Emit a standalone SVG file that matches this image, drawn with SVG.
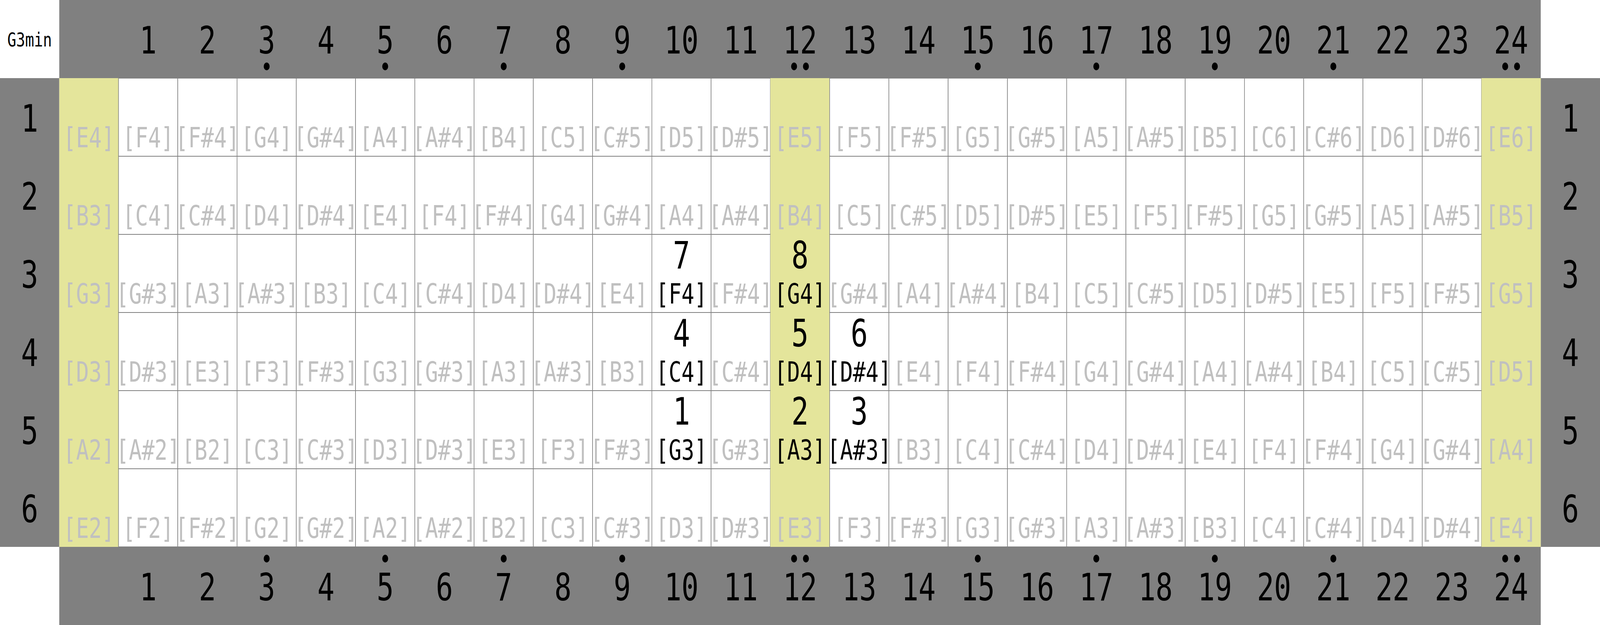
<svg xmlns="http://www.w3.org/2000/svg" width="5400" height="1600" viewBox="0 0 5400 1600" preserveAspectRatio="none">
<style>
svg:root{width:100vw;height:100vh;display:block}
text{font-family:"DejaVu Sans Mono","Liberation Mono",monospace;text-anchor:middle;fill:#000}
.bar{fill:#808080}
.c{fill:#fff;stroke:#808080;stroke-width:2}
.h{fill:#e4e59b;stroke:none}
.n{font-size:72px;fill:#c0c0c0}
.n.on{fill:#000}
.big{font-size:96px}
.title{font-size:50px}
.dot{fill:#000}
</style>
<rect width="5400" height="1600" fill="#fff"/>
<g id="title"><text class="title" x="100" y="119">G3min</text></g>
<g id="top-bar"><rect class="bar" x="200" y="0" width="5000" height="200"/>
<text class="big" x="500" y="137">1</text><text class="big" x="700" y="137">2</text><text class="big" x="900" y="137">3</text><text class="big" x="1100" y="137">4</text><text class="big" x="1300" y="137">5</text><text class="big" x="1500" y="137">6</text><text class="big" x="1700" y="137">7</text><text class="big" x="1900" y="137">8</text><text class="big" x="2100" y="137">9</text><text class="big" x="2300" y="137">10</text><text class="big" x="2500" y="137">11</text><text class="big" x="2700" y="137">12</text><text class="big" x="2900" y="137">13</text><text class="big" x="3100" y="137">14</text><text class="big" x="3300" y="137">15</text><text class="big" x="3500" y="137">16</text><text class="big" x="3700" y="137">17</text><text class="big" x="3900" y="137">18</text><text class="big" x="4100" y="137">19</text><text class="big" x="4300" y="137">20</text><text class="big" x="4500" y="137">21</text><text class="big" x="4700" y="137">22</text><text class="big" x="4900" y="137">23</text><text class="big" x="5100" y="137">24</text>
<circle class="dot" cx="900" cy="170" r="10"/><circle class="dot" cx="1300" cy="170" r="10"/><circle class="dot" cx="1700" cy="170" r="10"/><circle class="dot" cx="2100" cy="170" r="10"/><circle class="dot" cx="2680" cy="170" r="10"/><circle class="dot" cx="2720" cy="170" r="10"/><circle class="dot" cx="3300" cy="170" r="10"/><circle class="dot" cx="3700" cy="170" r="10"/><circle class="dot" cx="4100" cy="170" r="10"/><circle class="dot" cx="4500" cy="170" r="10"/><circle class="dot" cx="5080" cy="170" r="10"/><circle class="dot" cx="5120" cy="170" r="10"/>
</g>
<g id="bottom-bar"><rect class="bar" x="200" y="1400" width="5000" height="200"/>
<text class="big" x="500" y="1537">1</text><text class="big" x="700" y="1537">2</text><text class="big" x="900" y="1537">3</text><text class="big" x="1100" y="1537">4</text><text class="big" x="1300" y="1537">5</text><text class="big" x="1500" y="1537">6</text><text class="big" x="1700" y="1537">7</text><text class="big" x="1900" y="1537">8</text><text class="big" x="2100" y="1537">9</text><text class="big" x="2300" y="1537">10</text><text class="big" x="2500" y="1537">11</text><text class="big" x="2700" y="1537">12</text><text class="big" x="2900" y="1537">13</text><text class="big" x="3100" y="1537">14</text><text class="big" x="3300" y="1537">15</text><text class="big" x="3500" y="1537">16</text><text class="big" x="3700" y="1537">17</text><text class="big" x="3900" y="1537">18</text><text class="big" x="4100" y="1537">19</text><text class="big" x="4300" y="1537">20</text><text class="big" x="4500" y="1537">21</text><text class="big" x="4700" y="1537">22</text><text class="big" x="4900" y="1537">23</text><text class="big" x="5100" y="1537">24</text>
<circle class="dot" cx="900" cy="1430" r="10"/><circle class="dot" cx="1300" cy="1430" r="10"/><circle class="dot" cx="1700" cy="1430" r="10"/><circle class="dot" cx="2100" cy="1430" r="10"/><circle class="dot" cx="2680" cy="1430" r="10"/><circle class="dot" cx="2720" cy="1430" r="10"/><circle class="dot" cx="3300" cy="1430" r="10"/><circle class="dot" cx="3700" cy="1430" r="10"/><circle class="dot" cx="4100" cy="1430" r="10"/><circle class="dot" cx="4500" cy="1430" r="10"/><circle class="dot" cx="5080" cy="1430" r="10"/><circle class="dot" cx="5120" cy="1430" r="10"/>
</g>
<g id="left-bar"><rect class="bar" x="0" y="200" width="200" height="1200"/>
<text class="big" x="100" y="337">1</text><text class="big" x="100" y="537">2</text><text class="big" x="100" y="737">3</text><text class="big" x="100" y="937">4</text><text class="big" x="100" y="1137">5</text><text class="big" x="100" y="1337">6</text>
</g>
<g id="right-bar"><rect class="bar" x="5200" y="200" width="200" height="1200"/>
<text class="big" x="5300" y="337">1</text><text class="big" x="5300" y="537">2</text><text class="big" x="5300" y="737">3</text><text class="big" x="5300" y="937">4</text><text class="big" x="5300" y="1137">5</text><text class="big" x="5300" y="1337">6</text>
</g>
<g id="string-1">
<g id="s1f0"><rect class="h" x="200" y="200" width="200" height="200"/><text class="n" x="300" y="377">[E4]</text></g>
<g id="s1f1"><rect class="c" x="400" y="200" width="200" height="200"/><text class="n" x="500" y="377">[F4]</text></g>
<g id="s1f2"><rect class="c" x="600" y="200" width="200" height="200"/><text class="n" x="700" y="377">[F#4]</text></g>
<g id="s1f3"><rect class="c" x="800" y="200" width="200" height="200"/><text class="n" x="900" y="377">[G4]</text></g>
<g id="s1f4"><rect class="c" x="1000" y="200" width="200" height="200"/><text class="n" x="1100" y="377">[G#4]</text></g>
<g id="s1f5"><rect class="c" x="1200" y="200" width="200" height="200"/><text class="n" x="1300" y="377">[A4]</text></g>
<g id="s1f6"><rect class="c" x="1400" y="200" width="200" height="200"/><text class="n" x="1500" y="377">[A#4]</text></g>
<g id="s1f7"><rect class="c" x="1600" y="200" width="200" height="200"/><text class="n" x="1700" y="377">[B4]</text></g>
<g id="s1f8"><rect class="c" x="1800" y="200" width="200" height="200"/><text class="n" x="1900" y="377">[C5]</text></g>
<g id="s1f9"><rect class="c" x="2000" y="200" width="200" height="200"/><text class="n" x="2100" y="377">[C#5]</text></g>
<g id="s1f10"><rect class="c" x="2200" y="200" width="200" height="200"/><text class="n" x="2300" y="377">[D5]</text></g>
<g id="s1f11"><rect class="c" x="2400" y="200" width="200" height="200"/><text class="n" x="2500" y="377">[D#5]</text></g>
<g id="s1f12"><rect class="h" x="2600" y="200" width="200" height="200"/><text class="n" x="2700" y="377">[E5]</text></g>
<g id="s1f13"><rect class="c" x="2800" y="200" width="200" height="200"/><text class="n" x="2900" y="377">[F5]</text></g>
<g id="s1f14"><rect class="c" x="3000" y="200" width="200" height="200"/><text class="n" x="3100" y="377">[F#5]</text></g>
<g id="s1f15"><rect class="c" x="3200" y="200" width="200" height="200"/><text class="n" x="3300" y="377">[G5]</text></g>
<g id="s1f16"><rect class="c" x="3400" y="200" width="200" height="200"/><text class="n" x="3500" y="377">[G#5]</text></g>
<g id="s1f17"><rect class="c" x="3600" y="200" width="200" height="200"/><text class="n" x="3700" y="377">[A5]</text></g>
<g id="s1f18"><rect class="c" x="3800" y="200" width="200" height="200"/><text class="n" x="3900" y="377">[A#5]</text></g>
<g id="s1f19"><rect class="c" x="4000" y="200" width="200" height="200"/><text class="n" x="4100" y="377">[B5]</text></g>
<g id="s1f20"><rect class="c" x="4200" y="200" width="200" height="200"/><text class="n" x="4300" y="377">[C6]</text></g>
<g id="s1f21"><rect class="c" x="4400" y="200" width="200" height="200"/><text class="n" x="4500" y="377">[C#6]</text></g>
<g id="s1f22"><rect class="c" x="4600" y="200" width="200" height="200"/><text class="n" x="4700" y="377">[D6]</text></g>
<g id="s1f23"><rect class="c" x="4800" y="200" width="200" height="200"/><text class="n" x="4900" y="377">[D#6]</text></g>
<g id="s1f24"><rect class="h" x="5000" y="200" width="200" height="200"/><text class="n" x="5100" y="377">[E6]</text></g>
</g>
<g id="string-2">
<g id="s2f0"><rect class="h" x="200" y="400" width="200" height="200"/><text class="n" x="300" y="577">[B3]</text></g>
<g id="s2f1"><rect class="c" x="400" y="400" width="200" height="200"/><text class="n" x="500" y="577">[C4]</text></g>
<g id="s2f2"><rect class="c" x="600" y="400" width="200" height="200"/><text class="n" x="700" y="577">[C#4]</text></g>
<g id="s2f3"><rect class="c" x="800" y="400" width="200" height="200"/><text class="n" x="900" y="577">[D4]</text></g>
<g id="s2f4"><rect class="c" x="1000" y="400" width="200" height="200"/><text class="n" x="1100" y="577">[D#4]</text></g>
<g id="s2f5"><rect class="c" x="1200" y="400" width="200" height="200"/><text class="n" x="1300" y="577">[E4]</text></g>
<g id="s2f6"><rect class="c" x="1400" y="400" width="200" height="200"/><text class="n" x="1500" y="577">[F4]</text></g>
<g id="s2f7"><rect class="c" x="1600" y="400" width="200" height="200"/><text class="n" x="1700" y="577">[F#4]</text></g>
<g id="s2f8"><rect class="c" x="1800" y="400" width="200" height="200"/><text class="n" x="1900" y="577">[G4]</text></g>
<g id="s2f9"><rect class="c" x="2000" y="400" width="200" height="200"/><text class="n" x="2100" y="577">[G#4]</text></g>
<g id="s2f10"><rect class="c" x="2200" y="400" width="200" height="200"/><text class="n" x="2300" y="577">[A4]</text></g>
<g id="s2f11"><rect class="c" x="2400" y="400" width="200" height="200"/><text class="n" x="2500" y="577">[A#4]</text></g>
<g id="s2f12"><rect class="h" x="2600" y="400" width="200" height="200"/><text class="n" x="2700" y="577">[B4]</text></g>
<g id="s2f13"><rect class="c" x="2800" y="400" width="200" height="200"/><text class="n" x="2900" y="577">[C5]</text></g>
<g id="s2f14"><rect class="c" x="3000" y="400" width="200" height="200"/><text class="n" x="3100" y="577">[C#5]</text></g>
<g id="s2f15"><rect class="c" x="3200" y="400" width="200" height="200"/><text class="n" x="3300" y="577">[D5]</text></g>
<g id="s2f16"><rect class="c" x="3400" y="400" width="200" height="200"/><text class="n" x="3500" y="577">[D#5]</text></g>
<g id="s2f17"><rect class="c" x="3600" y="400" width="200" height="200"/><text class="n" x="3700" y="577">[E5]</text></g>
<g id="s2f18"><rect class="c" x="3800" y="400" width="200" height="200"/><text class="n" x="3900" y="577">[F5]</text></g>
<g id="s2f19"><rect class="c" x="4000" y="400" width="200" height="200"/><text class="n" x="4100" y="577">[F#5]</text></g>
<g id="s2f20"><rect class="c" x="4200" y="400" width="200" height="200"/><text class="n" x="4300" y="577">[G5]</text></g>
<g id="s2f21"><rect class="c" x="4400" y="400" width="200" height="200"/><text class="n" x="4500" y="577">[G#5]</text></g>
<g id="s2f22"><rect class="c" x="4600" y="400" width="200" height="200"/><text class="n" x="4700" y="577">[A5]</text></g>
<g id="s2f23"><rect class="c" x="4800" y="400" width="200" height="200"/><text class="n" x="4900" y="577">[A#5]</text></g>
<g id="s2f24"><rect class="h" x="5000" y="400" width="200" height="200"/><text class="n" x="5100" y="577">[B5]</text></g>
</g>
<g id="string-3">
<g id="s3f0"><rect class="h" x="200" y="600" width="200" height="200"/><text class="n" x="300" y="777">[G3]</text></g>
<g id="s3f1"><rect class="c" x="400" y="600" width="200" height="200"/><text class="n" x="500" y="777">[G#3]</text></g>
<g id="s3f2"><rect class="c" x="600" y="600" width="200" height="200"/><text class="n" x="700" y="777">[A3]</text></g>
<g id="s3f3"><rect class="c" x="800" y="600" width="200" height="200"/><text class="n" x="900" y="777">[A#3]</text></g>
<g id="s3f4"><rect class="c" x="1000" y="600" width="200" height="200"/><text class="n" x="1100" y="777">[B3]</text></g>
<g id="s3f5"><rect class="c" x="1200" y="600" width="200" height="200"/><text class="n" x="1300" y="777">[C4]</text></g>
<g id="s3f6"><rect class="c" x="1400" y="600" width="200" height="200"/><text class="n" x="1500" y="777">[C#4]</text></g>
<g id="s3f7"><rect class="c" x="1600" y="600" width="200" height="200"/><text class="n" x="1700" y="777">[D4]</text></g>
<g id="s3f8"><rect class="c" x="1800" y="600" width="200" height="200"/><text class="n" x="1900" y="777">[D#4]</text></g>
<g id="s3f9"><rect class="c" x="2000" y="600" width="200" height="200"/><text class="n" x="2100" y="777">[E4]</text></g>
<g id="s3f10"><rect class="c" x="2200" y="600" width="200" height="200"/><text class="big" x="2300" y="687">7</text><text class="n on" x="2300" y="777">[F4]</text></g>
<g id="s3f11"><rect class="c" x="2400" y="600" width="200" height="200"/><text class="n" x="2500" y="777">[F#4]</text></g>
<g id="s3f12"><rect class="h" x="2600" y="600" width="200" height="200"/><text class="big" x="2700" y="687">8</text><text class="n on" x="2700" y="777">[G4]</text></g>
<g id="s3f13"><rect class="c" x="2800" y="600" width="200" height="200"/><text class="n" x="2900" y="777">[G#4]</text></g>
<g id="s3f14"><rect class="c" x="3000" y="600" width="200" height="200"/><text class="n" x="3100" y="777">[A4]</text></g>
<g id="s3f15"><rect class="c" x="3200" y="600" width="200" height="200"/><text class="n" x="3300" y="777">[A#4]</text></g>
<g id="s3f16"><rect class="c" x="3400" y="600" width="200" height="200"/><text class="n" x="3500" y="777">[B4]</text></g>
<g id="s3f17"><rect class="c" x="3600" y="600" width="200" height="200"/><text class="n" x="3700" y="777">[C5]</text></g>
<g id="s3f18"><rect class="c" x="3800" y="600" width="200" height="200"/><text class="n" x="3900" y="777">[C#5]</text></g>
<g id="s3f19"><rect class="c" x="4000" y="600" width="200" height="200"/><text class="n" x="4100" y="777">[D5]</text></g>
<g id="s3f20"><rect class="c" x="4200" y="600" width="200" height="200"/><text class="n" x="4300" y="777">[D#5]</text></g>
<g id="s3f21"><rect class="c" x="4400" y="600" width="200" height="200"/><text class="n" x="4500" y="777">[E5]</text></g>
<g id="s3f22"><rect class="c" x="4600" y="600" width="200" height="200"/><text class="n" x="4700" y="777">[F5]</text></g>
<g id="s3f23"><rect class="c" x="4800" y="600" width="200" height="200"/><text class="n" x="4900" y="777">[F#5]</text></g>
<g id="s3f24"><rect class="h" x="5000" y="600" width="200" height="200"/><text class="n" x="5100" y="777">[G5]</text></g>
</g>
<g id="string-4">
<g id="s4f0"><rect class="h" x="200" y="800" width="200" height="200"/><text class="n" x="300" y="977">[D3]</text></g>
<g id="s4f1"><rect class="c" x="400" y="800" width="200" height="200"/><text class="n" x="500" y="977">[D#3]</text></g>
<g id="s4f2"><rect class="c" x="600" y="800" width="200" height="200"/><text class="n" x="700" y="977">[E3]</text></g>
<g id="s4f3"><rect class="c" x="800" y="800" width="200" height="200"/><text class="n" x="900" y="977">[F3]</text></g>
<g id="s4f4"><rect class="c" x="1000" y="800" width="200" height="200"/><text class="n" x="1100" y="977">[F#3]</text></g>
<g id="s4f5"><rect class="c" x="1200" y="800" width="200" height="200"/><text class="n" x="1300" y="977">[G3]</text></g>
<g id="s4f6"><rect class="c" x="1400" y="800" width="200" height="200"/><text class="n" x="1500" y="977">[G#3]</text></g>
<g id="s4f7"><rect class="c" x="1600" y="800" width="200" height="200"/><text class="n" x="1700" y="977">[A3]</text></g>
<g id="s4f8"><rect class="c" x="1800" y="800" width="200" height="200"/><text class="n" x="1900" y="977">[A#3]</text></g>
<g id="s4f9"><rect class="c" x="2000" y="800" width="200" height="200"/><text class="n" x="2100" y="977">[B3]</text></g>
<g id="s4f10"><rect class="c" x="2200" y="800" width="200" height="200"/><text class="big" x="2300" y="887">4</text><text class="n on" x="2300" y="977">[C4]</text></g>
<g id="s4f11"><rect class="c" x="2400" y="800" width="200" height="200"/><text class="n" x="2500" y="977">[C#4]</text></g>
<g id="s4f12"><rect class="h" x="2600" y="800" width="200" height="200"/><text class="big" x="2700" y="887">5</text><text class="n on" x="2700" y="977">[D4]</text></g>
<g id="s4f13"><rect class="c" x="2800" y="800" width="200" height="200"/><text class="big" x="2900" y="887">6</text><text class="n on" x="2900" y="977">[D#4]</text></g>
<g id="s4f14"><rect class="c" x="3000" y="800" width="200" height="200"/><text class="n" x="3100" y="977">[E4]</text></g>
<g id="s4f15"><rect class="c" x="3200" y="800" width="200" height="200"/><text class="n" x="3300" y="977">[F4]</text></g>
<g id="s4f16"><rect class="c" x="3400" y="800" width="200" height="200"/><text class="n" x="3500" y="977">[F#4]</text></g>
<g id="s4f17"><rect class="c" x="3600" y="800" width="200" height="200"/><text class="n" x="3700" y="977">[G4]</text></g>
<g id="s4f18"><rect class="c" x="3800" y="800" width="200" height="200"/><text class="n" x="3900" y="977">[G#4]</text></g>
<g id="s4f19"><rect class="c" x="4000" y="800" width="200" height="200"/><text class="n" x="4100" y="977">[A4]</text></g>
<g id="s4f20"><rect class="c" x="4200" y="800" width="200" height="200"/><text class="n" x="4300" y="977">[A#4]</text></g>
<g id="s4f21"><rect class="c" x="4400" y="800" width="200" height="200"/><text class="n" x="4500" y="977">[B4]</text></g>
<g id="s4f22"><rect class="c" x="4600" y="800" width="200" height="200"/><text class="n" x="4700" y="977">[C5]</text></g>
<g id="s4f23"><rect class="c" x="4800" y="800" width="200" height="200"/><text class="n" x="4900" y="977">[C#5]</text></g>
<g id="s4f24"><rect class="h" x="5000" y="800" width="200" height="200"/><text class="n" x="5100" y="977">[D5]</text></g>
</g>
<g id="string-5">
<g id="s5f0"><rect class="h" x="200" y="1000" width="200" height="200"/><text class="n" x="300" y="1177">[A2]</text></g>
<g id="s5f1"><rect class="c" x="400" y="1000" width="200" height="200"/><text class="n" x="500" y="1177">[A#2]</text></g>
<g id="s5f2"><rect class="c" x="600" y="1000" width="200" height="200"/><text class="n" x="700" y="1177">[B2]</text></g>
<g id="s5f3"><rect class="c" x="800" y="1000" width="200" height="200"/><text class="n" x="900" y="1177">[C3]</text></g>
<g id="s5f4"><rect class="c" x="1000" y="1000" width="200" height="200"/><text class="n" x="1100" y="1177">[C#3]</text></g>
<g id="s5f5"><rect class="c" x="1200" y="1000" width="200" height="200"/><text class="n" x="1300" y="1177">[D3]</text></g>
<g id="s5f6"><rect class="c" x="1400" y="1000" width="200" height="200"/><text class="n" x="1500" y="1177">[D#3]</text></g>
<g id="s5f7"><rect class="c" x="1600" y="1000" width="200" height="200"/><text class="n" x="1700" y="1177">[E3]</text></g>
<g id="s5f8"><rect class="c" x="1800" y="1000" width="200" height="200"/><text class="n" x="1900" y="1177">[F3]</text></g>
<g id="s5f9"><rect class="c" x="2000" y="1000" width="200" height="200"/><text class="n" x="2100" y="1177">[F#3]</text></g>
<g id="s5f10"><rect class="c" x="2200" y="1000" width="200" height="200"/><text class="big" x="2300" y="1087">1</text><text class="n on" x="2300" y="1177">[G3]</text></g>
<g id="s5f11"><rect class="c" x="2400" y="1000" width="200" height="200"/><text class="n" x="2500" y="1177">[G#3]</text></g>
<g id="s5f12"><rect class="h" x="2600" y="1000" width="200" height="200"/><text class="big" x="2700" y="1087">2</text><text class="n on" x="2700" y="1177">[A3]</text></g>
<g id="s5f13"><rect class="c" x="2800" y="1000" width="200" height="200"/><text class="big" x="2900" y="1087">3</text><text class="n on" x="2900" y="1177">[A#3]</text></g>
<g id="s5f14"><rect class="c" x="3000" y="1000" width="200" height="200"/><text class="n" x="3100" y="1177">[B3]</text></g>
<g id="s5f15"><rect class="c" x="3200" y="1000" width="200" height="200"/><text class="n" x="3300" y="1177">[C4]</text></g>
<g id="s5f16"><rect class="c" x="3400" y="1000" width="200" height="200"/><text class="n" x="3500" y="1177">[C#4]</text></g>
<g id="s5f17"><rect class="c" x="3600" y="1000" width="200" height="200"/><text class="n" x="3700" y="1177">[D4]</text></g>
<g id="s5f18"><rect class="c" x="3800" y="1000" width="200" height="200"/><text class="n" x="3900" y="1177">[D#4]</text></g>
<g id="s5f19"><rect class="c" x="4000" y="1000" width="200" height="200"/><text class="n" x="4100" y="1177">[E4]</text></g>
<g id="s5f20"><rect class="c" x="4200" y="1000" width="200" height="200"/><text class="n" x="4300" y="1177">[F4]</text></g>
<g id="s5f21"><rect class="c" x="4400" y="1000" width="200" height="200"/><text class="n" x="4500" y="1177">[F#4]</text></g>
<g id="s5f22"><rect class="c" x="4600" y="1000" width="200" height="200"/><text class="n" x="4700" y="1177">[G4]</text></g>
<g id="s5f23"><rect class="c" x="4800" y="1000" width="200" height="200"/><text class="n" x="4900" y="1177">[G#4]</text></g>
<g id="s5f24"><rect class="h" x="5000" y="1000" width="200" height="200"/><text class="n" x="5100" y="1177">[A4]</text></g>
</g>
<g id="string-6">
<g id="s6f0"><rect class="h" x="200" y="1200" width="200" height="200"/><text class="n" x="300" y="1377">[E2]</text></g>
<g id="s6f1"><rect class="c" x="400" y="1200" width="200" height="200"/><text class="n" x="500" y="1377">[F2]</text></g>
<g id="s6f2"><rect class="c" x="600" y="1200" width="200" height="200"/><text class="n" x="700" y="1377">[F#2]</text></g>
<g id="s6f3"><rect class="c" x="800" y="1200" width="200" height="200"/><text class="n" x="900" y="1377">[G2]</text></g>
<g id="s6f4"><rect class="c" x="1000" y="1200" width="200" height="200"/><text class="n" x="1100" y="1377">[G#2]</text></g>
<g id="s6f5"><rect class="c" x="1200" y="1200" width="200" height="200"/><text class="n" x="1300" y="1377">[A2]</text></g>
<g id="s6f6"><rect class="c" x="1400" y="1200" width="200" height="200"/><text class="n" x="1500" y="1377">[A#2]</text></g>
<g id="s6f7"><rect class="c" x="1600" y="1200" width="200" height="200"/><text class="n" x="1700" y="1377">[B2]</text></g>
<g id="s6f8"><rect class="c" x="1800" y="1200" width="200" height="200"/><text class="n" x="1900" y="1377">[C3]</text></g>
<g id="s6f9"><rect class="c" x="2000" y="1200" width="200" height="200"/><text class="n" x="2100" y="1377">[C#3]</text></g>
<g id="s6f10"><rect class="c" x="2200" y="1200" width="200" height="200"/><text class="n" x="2300" y="1377">[D3]</text></g>
<g id="s6f11"><rect class="c" x="2400" y="1200" width="200" height="200"/><text class="n" x="2500" y="1377">[D#3]</text></g>
<g id="s6f12"><rect class="h" x="2600" y="1200" width="200" height="200"/><text class="n" x="2700" y="1377">[E3]</text></g>
<g id="s6f13"><rect class="c" x="2800" y="1200" width="200" height="200"/><text class="n" x="2900" y="1377">[F3]</text></g>
<g id="s6f14"><rect class="c" x="3000" y="1200" width="200" height="200"/><text class="n" x="3100" y="1377">[F#3]</text></g>
<g id="s6f15"><rect class="c" x="3200" y="1200" width="200" height="200"/><text class="n" x="3300" y="1377">[G3]</text></g>
<g id="s6f16"><rect class="c" x="3400" y="1200" width="200" height="200"/><text class="n" x="3500" y="1377">[G#3]</text></g>
<g id="s6f17"><rect class="c" x="3600" y="1200" width="200" height="200"/><text class="n" x="3700" y="1377">[A3]</text></g>
<g id="s6f18"><rect class="c" x="3800" y="1200" width="200" height="200"/><text class="n" x="3900" y="1377">[A#3]</text></g>
<g id="s6f19"><rect class="c" x="4000" y="1200" width="200" height="200"/><text class="n" x="4100" y="1377">[B3]</text></g>
<g id="s6f20"><rect class="c" x="4200" y="1200" width="200" height="200"/><text class="n" x="4300" y="1377">[C4]</text></g>
<g id="s6f21"><rect class="c" x="4400" y="1200" width="200" height="200"/><text class="n" x="4500" y="1377">[C#4]</text></g>
<g id="s6f22"><rect class="c" x="4600" y="1200" width="200" height="200"/><text class="n" x="4700" y="1377">[D4]</text></g>
<g id="s6f23"><rect class="c" x="4800" y="1200" width="200" height="200"/><text class="n" x="4900" y="1377">[D#4]</text></g>
<g id="s6f24"><rect class="h" x="5000" y="1200" width="200" height="200"/><text class="n" x="5100" y="1377">[E4]</text></g>
</g>
<g id="connectors"/>
</svg>
